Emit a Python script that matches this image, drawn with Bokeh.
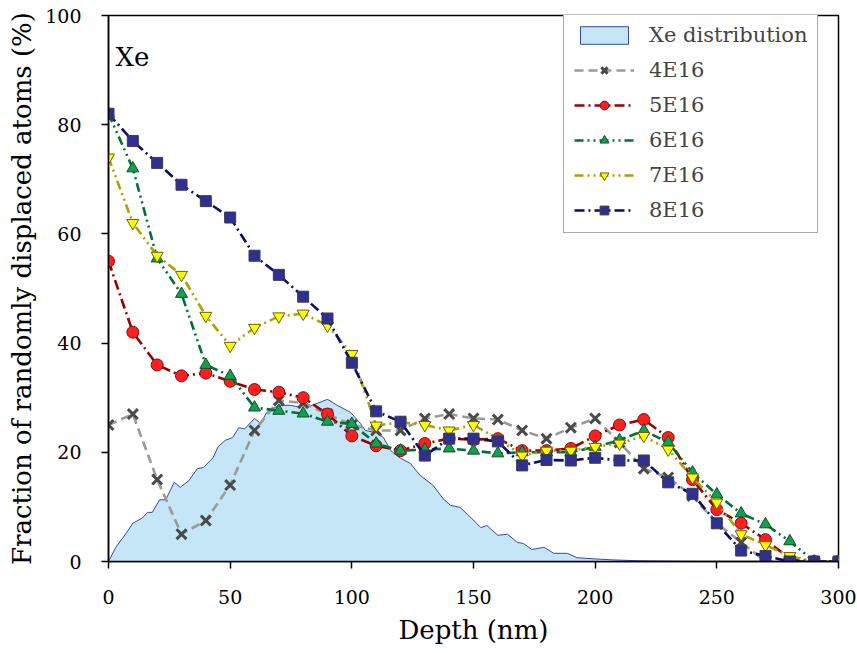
from bokeh.plotting import figure
from bokeh.models import Legend, LegendItem, Label, FixedTicker
from bokeh.embed import file_html
from bokeh.resources import INLINE

depth = [0, 10, 20, 30, 40, 50, 60, 70, 80, 90, 100, 110, 120, 130, 140, 150,
         160, 170, 180, 190, 200, 210, 220, 230, 240, 250, 260, 270, 280, 290, 300]

s4e16 = [25, 27, 15, 5, 7.5, 14, 24, 29.5, 29, 27, 25, 24, 24, 26.2, 27, 26.2,
         26, 24, 22.5, 24.5, 26.2, 21.8, 17, 15.4, 12, 7, 3.5, 0, 0, 0, 0]
s5e16 = [55, 42, 36, 34, 34.5, 33, 31.5, 31, 30, 27, 23, 21.2, 20.3, 21.6, 22.5, 22.3,
         22.5, 20.3, 20.3, 20.7, 23, 25, 26, 22.7, 15, 9.5, 7, 4, 0.5, 0, 0]
s6e16 = [82, 72, 55.5, 49, 36, 34, 28.2, 27.6, 27.1, 25.6, 25.2, 21.6, 20.3, 20.5, 20.7, 20.3,
         19.8, 20, 20, 20, 21, 22.2, 24, 21.8, 16.3, 12.3, 8.8, 6.8, 3.7, 0, 0]
s7e16 = [74, 62, 56, 52.5, 45, 39.5, 42.8, 44.9, 45.4, 43.2, 38, 24.9, 25.5, 25, 24, 25,
         22.5, 19.4, 20.3, 20.3, 21, 21.6, 23, 20.5, 15.4, 10.8, 5, 3, 1, 0, 0]
s8e16 = [82, 77, 73, 69, 66, 63, 56, 52.5, 48.5, 44.5, 36.4, 27.5, 25.6, 19.4, 22.5, 22.5,
         22, 17.6, 18.6, 18.5, 19, 18.5, 18.5, 14.5, 12.4, 7, 2, 1, 0, 0, 0]

xe_depth = [0, 3, 7, 10, 14, 16, 18, 21, 23.5, 27, 29.5, 33, 36.5, 39, 43, 45, 48, 51,
            53.5, 56, 60, 62.5, 65, 70, 75, 78, 80, 83, 86, 90, 94, 99.5, 103.5, 105.5,
            110, 113, 116, 120, 124, 128, 133.5, 137.5, 140.5, 144.5, 149, 153, 155.5,
            160, 164, 168, 170.5, 174, 179, 183, 188.5, 192.5, 199, 207, 220, 240, 260]
xe_dist = [0, 2.6, 5, 7, 8, 9, 9, 11.3, 11.3, 14.5, 13.6, 14.8, 17, 17.2, 19, 21, 22.2, 22.7,
           24.5, 24.3, 26.2, 25.3, 27.3, 28.6, 28.6, 28.3, 29.5, 28.5, 29, 29.7, 28.6, 27.3, 25.3, 24,
           23.6, 22.7, 20.3, 18.9, 18, 15.8, 13.9, 11.5, 10.3, 9.9, 8, 6.2, 6.6,
           4.8, 5, 3.5, 3.3, 2.2, 2.6, 1.5, 1.5, 0.7, 0.5, 0.3, 0.1, 0, 0]

x_ticks = [0, 50, 100, 150, 200, 250, 300]
y_ticks = [0, 20, 40, 60, 80, 100]

FONT = "DejaVu Serif"

p = figure(width=857, height=653, x_range=(0, 300), y_range=(0, 100),
           output_backend="svg", toolbar_location=None,
           min_border_left=108, min_border_right=19, min_border_top=15, min_border_bottom=92)
p.xgrid.visible = False
p.ygrid.visible = False
p.outline_line_color = "black"
p.outline_line_width = 1.5
p.background_fill_color = "white"

for ax in (p.xaxis[0], p.yaxis[0]):
    ax.axis_line_width = 1.5
    ax.major_tick_line_width = 1.5
    ax.major_tick_out = 7
    ax.major_tick_in = 0
    ax.minor_tick_line_color = None
    ax.major_label_text_font = FONT
    ax.major_label_text_font_size = "19px"
    ax.major_label_text_color = "black"
    ax.axis_label_text_font = FONT
    ax.axis_label_text_font_size = "26px"
    ax.axis_label_text_font_style = "normal"
    ax.axis_label_text_color = "black"

p.xaxis.ticker = FixedTicker(ticks=x_ticks)
p.yaxis.ticker = FixedTicker(ticks=y_ticks)
p.xaxis.axis_label = "Depth (nm)"
p.yaxis.axis_label = "Fraction of randomly displaced atoms (%)"
p.xaxis.major_label_standoff = 21
p.yaxis.major_label_standoff = 20
p.xaxis.axis_label_standoff = 8
p.yaxis.axis_label_standoff = 5

# Xe distribution area
area_x = xe_depth + [xe_depth[-1], xe_depth[0]]
area_y = xe_dist + [0, 0]
r_area = p.patch(area_x, area_y, fill_color="#C5E6F7", line_color="#3548B0", line_width=1)

series = [
    ("4E16", s4e16, "#9A9A9A", "9 5", "x", "#555555", "#4A4A4A", 14),
    ("5E16", s5e16, "#990000", "10 4 2 4", "circle", "#FF1F1F", "#7A1010", 12),
    ("6E16", s6e16, "#00703A", "9 4 2 4 2 4", "triangle", "#10A050", "#1A4A2A", 12),
    ("7E16", s7e16, "#B0A000", "9 4 2 4 2 4", "inverted_triangle", "#FFFF00", "#6A6000", 12),
    ("8E16", s8e16, "#0B0B6E", "10 4 2 4", "square", "#2E3192", "#3A3A4A", 11),
]

items = [LegendItem(label="Xe distribution", renderers=[r_area])]
for name, vals, lc, dash, marker, fc, mlc, size in series:
    rl = p.line(depth, vals, line_color=lc, line_width=2.6, line_dash=dash)
    if marker == "x":
        rs = p.scatter(depth, vals, marker="x", size=size, line_color=mlc, line_width=3)
    else:
        rs = p.scatter(depth, vals, marker=marker, size=size, fill_color=fc,
                       line_color=mlc, line_width=1)
    items.append(LegendItem(label=name, renderers=[rl, rs]))

legend = Legend(items=items, location=(455, 328))
legend.label_text_font = FONT
legend.label_text_font_size = "21px"
legend.label_height = 22
legend.glyph_width = 60
legend.glyph_height = 22
legend.spacing = 11
legend.padding = 10
legend.label_standoff = 15
legend.border_line_color = "#555555"
legend.border_line_width = 1.2
legend.background_fill_color = "white"
legend.background_fill_alpha = 1
p.add_layout(legend, "center")

p.add_layout(Label(x=7, y=490, x_units="screen", y_units="screen", text="Xe",
                   text_font=FONT, text_font_size="26px", text_color="black"))

open("out.html", "w").write(file_html(p, INLINE))
